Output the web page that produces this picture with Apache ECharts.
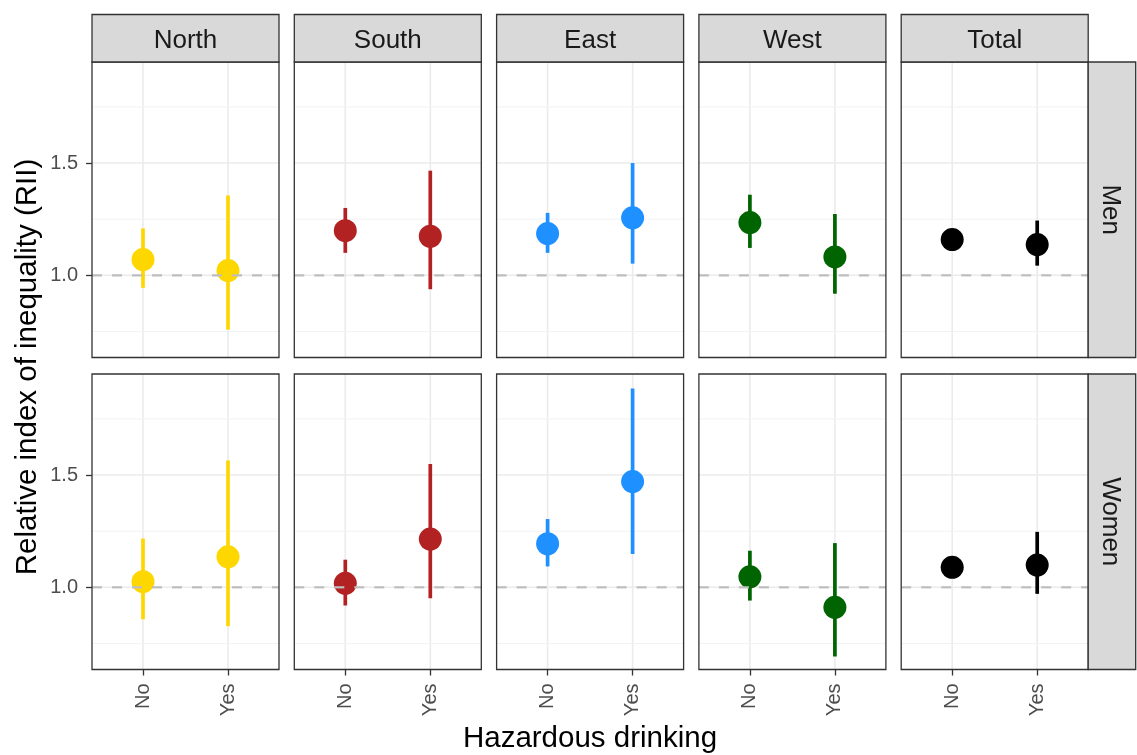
<!DOCTYPE html>
<html>
<head>
<meta charset="utf-8">
<script src="https://cdn.jsdelivr.net/npm/echarts@6/dist/echarts.min.js"></script>
<style>html,body{margin:0;padding:0;background:#fff;}#c{width:1137px;height:755px;}</style>
</head>
<body>
<div id="c"></div>
<script>
// ---- data ----
const regions = ['North', 'South', 'East', 'West', 'Total'];
const sexes = ['Men', 'Women'];
const drinking = ['No', 'Yes'];
const regionColors = ['#FFD700', '#B22222', '#1E90FF', '#006400', '#000000'];
// per region: [No, Yes]
const menEst  = [[1.070, 1.021], [1.199, 1.174], [1.186, 1.256], [1.235, 1.082], [1.159, 1.137]];
const menLow  = [[0.944, 0.758], [1.100, 0.938], [1.100, 1.052], [1.122, 0.918], [1.130, 1.043]];
const menHigh = [[1.209, 1.356], [1.300, 1.466], [1.278, 1.500], [1.359, 1.273], [1.190, 1.244]];
const womenEst  = [[1.025, 1.136], [1.018, 1.215], [1.194, 1.471], [1.047, 0.911], [1.089, 1.099]];
const womenLow  = [[0.858, 0.827], [0.919, 0.951], [1.093, 1.148], [0.941, 0.692], [1.060, 0.971]];
const womenHigh = [[1.217, 1.565], [1.123, 1.549], [1.304, 1.885], [1.163, 1.197], [1.120, 1.247]];
const yTicks = [1.0, 1.5];
const yMinorTicks = [0.75, 1.25, 1.75];
const refLine = 1.0;
const yTitle = 'Relative index of inequality (RII)';
const xTitle = 'Hazardous drinking';

// ---- layout ----
const Y_MIN = 0.634, Y_MAX = 1.950;
const X_MIN = 0.4, X_MAX = 2.6;
const colLeft0 = 92, colStep = 202.3, panelW = 187;
const rowTops = [62, 374], panelH = 295.5;
const stripH = 47.5, stripW = 47.5;
const FONT = '"Liberation Sans", Arial, sans-serif';

const est = [menEst, womenEst], low = [menLow, womenLow], high = [menHigh, womenHigh];

const grids = [], xAxes = [], yAxes = [], series = [], graphics = [];
let gi = 0;
for (let r = 0; r < sexes.length; r++) {
  for (let c = 0; c < regions.length; c++) {
    const left = colLeft0 + c * colStep, top = rowTops[r];
    grids.push({ left: left, top: top, width: panelW, height: panelH, show: true, backgroundColor: '#ffffff', borderWidth: 0 });
    xAxes.push({
      type: 'value', gridIndex: gi, min: X_MIN, max: X_MAX,
      axisLine: { show: false }, splitLine: { show: false },
      axisTick: { show: r === sexes.length - 1, customValues: [1, 2], length: 6, lineStyle: { color: '#333333', width: 1.3 } },
      axisLabel: { show: r === sexes.length - 1, customValues: [1, 2], rotate: 90, margin: 14,
        formatter: v => drinking[Math.round(v) - 1] || '', color: '#4D4D4D', fontSize: 20, fontFamily: FONT }
    });
    yAxes.push({
      type: 'value', gridIndex: gi, min: Y_MIN, max: Y_MAX,
      axisLine: { show: false }, splitLine: { show: false },
      axisTick: { show: c === 0, customValues: yTicks, length: 6, lineStyle: { color: '#333333', width: 1.3 } },
      axisLabel: { show: c === 0, customValues: yTicks, margin: 14,
        formatter: v => Number(v).toFixed(1), color: '#4D4D4D', fontSize: 20, fontFamily: FONT }
    });
    // grid lines: kind 0 major horizontal, 1 vertical, 2 minor horizontal
    const gridData = yTicks.map(v => [v, 0])
      .concat(drinking.map((d, i) => [i + 1, 1]))
      .concat(yMinorTicks.map(v => [v, 2]));
    series.push({
      type: 'custom', xAxisIndex: gi, yAxisIndex: gi, silent: true, z: 1,
      encode: { x: -1, y: -1 },
      data: gridData,
      renderItem: (params, api) => {
        const v = api.value(0), kind = api.value(1), cs = params.coordSys;
        if (kind === 1) {
          const x = api.coord([v, 1])[0];
          return { type: 'line', shape: { x1: x, y1: cs.y, x2: x, y2: cs.y + cs.height }, style: { stroke: '#EBEBEB', lineWidth: 1.6 } };
        }
        const y = api.coord([1, v])[1];
        return { type: 'line', shape: { x1: cs.x, y1: y, x2: cs.x + cs.width, y2: y },
          style: { stroke: kind === 0 ? '#EBEBEB' : '#F2F2F2', lineWidth: kind === 0 ? 1.6 : 1 } };
      }
    });
    const col = regionColors[c];
    const ebData = drinking.map((d, i) => [i + 1, est[r][c][i], low[r][c][i], high[r][c][i]]);
    series.push({
      type: 'custom', xAxisIndex: gi, yAxisIndex: gi, silent: true, z: 3,
      encode: { x: 0, y: [1, 2, 3] },
      data: ebData,
      renderItem: (params, api) => {
        const p1 = api.coord([api.value(0), api.value(2)]);
        const p2 = api.coord([api.value(0), api.value(3)]);
        return { type: 'line', shape: { x1: p1[0], y1: p1[1], x2: p2[0], y2: p2[1] }, style: { stroke: col, lineWidth: 3.7 } };
      }
    });
    series.push({
      type: 'scatter', xAxisIndex: gi, yAxisIndex: gi, silent: true, z: 4,
      symbol: 'circle', symbolSize: 23,
      itemStyle: { color: col, opacity: 1 },
      data: drinking.map((d, i) => [i + 1, est[r][c][i]])
    });
    // dashed reference line drawn on top
    series.push({
      type: 'custom', xAxisIndex: gi, yAxisIndex: gi, silent: true, z: 5,
      encode: { x: -1, y: -1 },
      data: [[refLine]],
      renderItem: (params, api) => {
        const cs = params.coordSys;
        const y = api.coord([1, api.value(0)])[1];
        return { type: 'line', shape: { x1: cs.x, y1: y, x2: cs.x + cs.width, y2: y }, style: { stroke: '#BEBEBE', lineWidth: 2.2, lineDash: [10, 10] } };
      }
    });
    // panel border
    graphics.push({ type: 'rect', z: 100, silent: true, shape: { x: left, y: top, width: panelW, height: panelH },
      style: { fill: null, stroke: '#333333', lineWidth: 1.3 } });
    gi++;
  }
}
// top strips
regions.forEach((name, c) => {
  const left = colLeft0 + c * colStep;
  graphics.push({ type: 'rect', z: 100, silent: true, shape: { x: left, y: rowTops[0] - stripH, width: panelW, height: stripH },
    style: { fill: '#D9D9D9', stroke: '#333333', lineWidth: 1.3 } });
  graphics.push({ type: 'text', z: 101, silent: true, x: left + panelW / 2, y: rowTops[0] - stripH / 2 + 2.5,
    style: { text: name, fill: '#1A1A1A', fontSize: 26, fontFamily: FONT, align: 'center', verticalAlign: 'middle' } });
});
// right strips
const stripX = colLeft0 + (regions.length - 1) * colStep + panelW;
sexes.forEach((name, r) => {
  graphics.push({ type: 'rect', z: 100, silent: true, shape: { x: stripX, y: rowTops[r], width: stripW, height: panelH },
    style: { fill: '#D9D9D9', stroke: '#333333', lineWidth: 1.3 } });
  graphics.push({ type: 'text', z: 101, silent: true, x: stripX + stripW / 2 - 2, y: rowTops[r] + panelH / 2, rotation: -Math.PI / 2,
    style: { text: name, fill: '#1A1A1A', fontSize: 26, fontFamily: FONT, align: 'center', verticalAlign: 'middle' } });
});
// axis titles
graphics.push({ type: 'text', z: 101, silent: true, x: 28, y: 367, rotation: Math.PI / 2,
  style: { text: yTitle, fill: '#000000', fontSize: 29.5, fontFamily: FONT, align: 'center', verticalAlign: 'middle' } });
graphics.push({ type: 'text', z: 101, silent: true, x: 590, y: 739,
  style: { text: xTitle, fill: '#000000', fontSize: 29.5, fontFamily: FONT, align: 'center', verticalAlign: 'middle' } });

const chart = echarts.init(document.getElementById('c'), null, { renderer: 'canvas' });
chart.setOption({
  animation: false,
  backgroundColor: '#ffffff',
  grid: grids, xAxis: xAxes, yAxis: yAxes, series: series, graphic: graphics
});
</script>
</body>
</html>
